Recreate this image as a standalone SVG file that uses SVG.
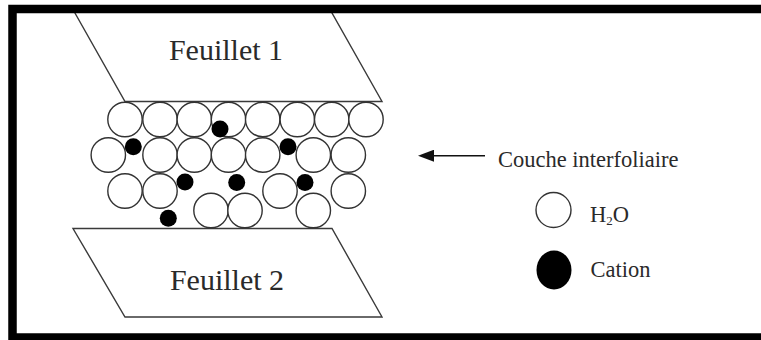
<svg xmlns="http://www.w3.org/2000/svg" width="761" height="340" viewBox="0 0 761 340">
  <style>
    .sheet { fill: #ffffff; stroke: #3a3a3a; stroke-width: 1.4; }
    .water { fill: #ffffff; stroke: #333333; stroke-width: 1.4; }
    .cation { fill: #000000; }
    .label { font-family: "Liberation Serif", "Times New Roman", serif; fill: #2a2a2a; }
    .big { font-size: 30px; }
    .small { font-size: 22.5px; }
  </style>
  <defs>
    <marker id="arrowhead" viewBox="0 0 16 12" refX="0" refY="6" markerWidth="16" markerHeight="12" markerUnits="userSpaceOnUse" orient="auto">
      <path d="M0,0 L16,6 L0,12 z" fill="#111111"/>
    </marker>
  </defs>

  <rect x="0" y="0" width="761" height="340" fill="#ffffff"/>

  <!-- upper clay sheet -->
  <g id="feuillet1">
    <polygon class="sheet" points="72.7,9 329.7,9 382,101.5 125,101.5"/>
    <text class="label big" x="226" y="60" text-anchor="middle">Feuillet 1</text>
  </g>

  <!-- lower clay sheet -->
  <g id="feuillet2">
    <polygon class="sheet" points="73,228.5 332,228.5 382,317 125,317"/>
    <text class="label big" x="227" y="290" text-anchor="middle">Feuillet 2</text>
  </g>

  <!-- interlayer: water molecules -->
  <g id="couche">
    <g id="water-row1">
      <circle class="water" cx="125" cy="119.5" r="17.2"/>
      <circle class="water" cx="160" cy="119.5" r="17.2"/>
      <circle class="water" cx="194.3" cy="119.5" r="17.2"/>
      <circle class="water" cx="228.5" cy="119.5" r="17.2"/>
      <circle class="water" cx="262.7" cy="119.5" r="17.2"/>
      <circle class="water" cx="297.3" cy="119.5" r="17.2"/>
      <circle class="water" cx="331.7" cy="119.5" r="17.2"/>
      <circle class="water" cx="366" cy="119.5" r="17.2"/>
    </g>
    <g id="water-row2">
      <circle class="water" cx="108.3" cy="155" r="17.2"/>
      <circle class="water" cx="160" cy="155" r="17.2"/>
      <circle class="water" cx="194.3" cy="155" r="17.2"/>
      <circle class="water" cx="228.5" cy="155" r="17.2"/>
      <circle class="water" cx="262.7" cy="155" r="17.2"/>
      <circle class="water" cx="313.3" cy="155" r="17.2"/>
      <circle class="water" cx="348.3" cy="155" r="17.2"/>
    </g>
    <g id="water-row3">
      <circle class="water" cx="125" cy="191" r="17.2"/>
      <circle class="water" cx="160" cy="191" r="17.2"/>
      <circle class="water" cx="280" cy="191" r="17.2"/>
      <circle class="water" cx="348.3" cy="191" r="17.2"/>
      <circle class="water" cx="211" cy="210.5" r="17.2"/>
      <circle class="water" cx="245" cy="210.5" r="17.2"/>
      <circle class="water" cx="313.3" cy="210.5" r="17.2"/>
    </g>
    <g id="cations">
      <circle class="cation" cx="220" cy="129" r="8.5"/>
      <circle class="cation" cx="133.3" cy="146.7" r="8.5"/>
      <circle class="cation" cx="288" cy="146.7" r="8.5"/>
      <circle class="cation" cx="185" cy="182" r="8.5"/>
      <circle class="cation" cx="236.7" cy="182.5" r="8.5"/>
      <circle class="cation" cx="305" cy="182.5" r="8.5"/>
      <circle class="cation" cx="168.3" cy="218.3" r="8.5"/>
    </g>
  </g>

  <!-- pointer to the interlayer -->
  <g id="connectors">
    <line x1="485" y1="155.7" x2="434" y2="155.7" stroke="#111111" stroke-width="1.4" marker-end="url(#arrowhead)"/>
  </g>

  <g id="label-couche">
    <text class="label small" x="498" y="167">Couche interfoliaire</text>
  </g>

  <!-- legend -->
  <g id="legend-h2o">
    <circle class="water" cx="553.5" cy="210" r="17.5"/>
    <text class="label small" x="590" y="221.5">H<tspan font-size="13" dy="3">2</tspan><tspan dy="-3">O</tspan></text>
  </g>
  <g id="legend-cation">
    <ellipse class="cation" cx="554" cy="270" rx="17.5" ry="19.5"/>
    <text class="label small" x="590.5" y="276.5">Cation</text>
  </g>

  <!-- outer frame -->
  <rect x="12.5" y="9" width="790" height="328.5" fill="none" stroke="#000000" stroke-width="8.5"/>
</svg>
